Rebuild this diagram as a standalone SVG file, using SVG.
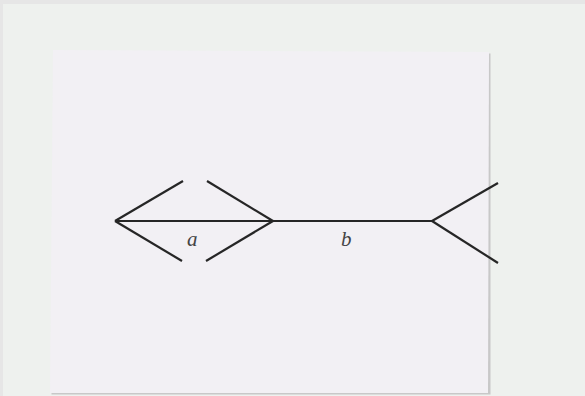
<svg xmlns="http://www.w3.org/2000/svg" width="585" height="396" viewBox="0 0 585 396">
  <defs>
    <style>
      .ln { stroke: #262626; stroke-width: 2.2; fill: none; stroke-linecap: butt; }
      .lbl { font-family: "Liberation Serif", "DejaVu Serif", serif; font-style: italic; font-size: 21px; fill: #444; }
    </style>
  </defs>
  <rect x="0" y="0" width="585" height="396" fill="#e6e6e6"/>
  <rect x="3" y="4" width="582" height="392" fill="#eef1ee"/>
  <g id="card">
    <polygon points="52,51 489,53 489,394 50,394" fill="#c8c8c8" transform="translate(1.5,0.5)"/>
    <polygon points="53,50 489,52 488,393 50,393" fill="#f2f0f4"/>
  </g>
  <g id="connectors">
    <line class="ln" x1="115" y1="221" x2="432" y2="221"/>
    <line class="ln" x1="115" y1="221" x2="183" y2="181"/>
    <line class="ln" x1="115" y1="221" x2="182" y2="261"/>
    <line class="ln" x1="207" y1="181" x2="273" y2="221"/>
    <line class="ln" x1="206" y1="261" x2="273" y2="221"/>
    <line class="ln" x1="432" y1="221" x2="498" y2="183"/>
    <line class="ln" x1="432" y1="221" x2="498" y2="263"/>
  </g>
  <g id="label-a"><text class="lbl" x="187" y="246">a</text></g>
  <g id="label-b"><text class="lbl" x="341" y="246">b</text></g>
</svg>
